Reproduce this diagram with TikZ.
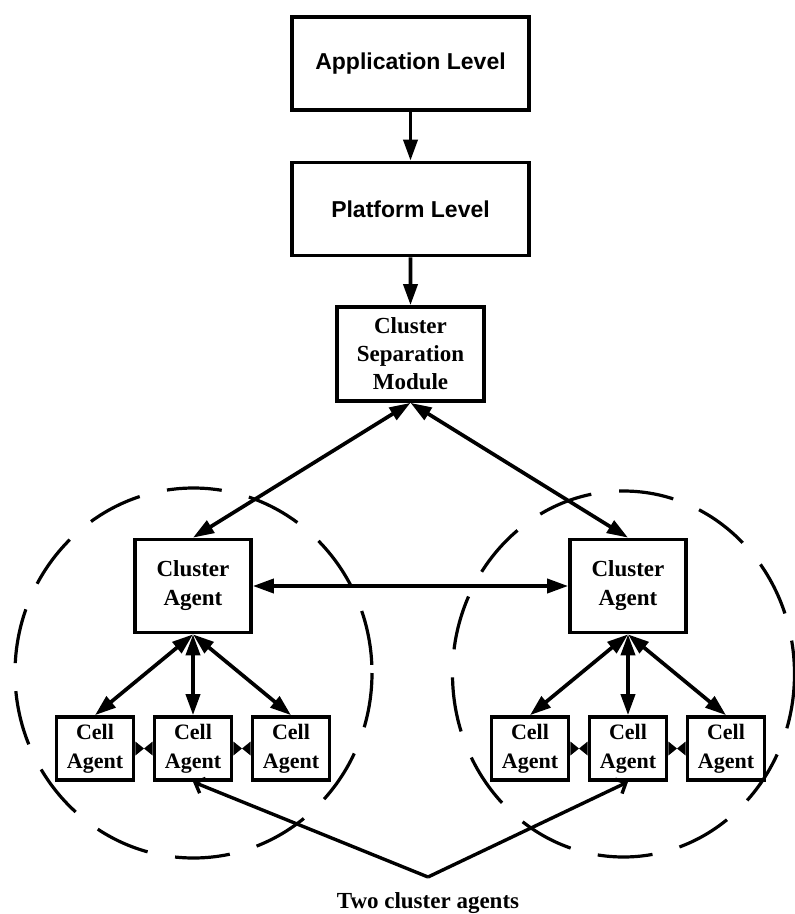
\documentclass[tikz,border=0pt]{standalone}
\usepackage{fontspec}
\setmainfont{Liberation Serif}
\setsansfont{Liberation Sans}
\usepackage{tikz}
\usetikzlibrary{arrows.meta,trees}
\usetikzlibrary{positioning}

\begin{document}
\begin{tikzpicture}[x=1pt,y=-1pt,line width=3.7pt,
  >={Triangle[length=21pt,width=14pt]},
  font=\fontsize{23}{29}\selectfont\bfseries,
  edge from parent path={(\tikzparentnode.south) -- (\tikzchildnode.north)},
  level 1/.style={level distance=145.5pt},
  level 2/.style={level distance=145pt},
  level 3/.style={level distance=232pt, sibling distance=435pt, <->},
  level 4/.style={level distance=162.5pt, sibling distance=98pt, <->},
  ->]
    \tikzstyle{tier}=[draw, minimum width=237pt, minimum height=93pt, font=\fontsize{23}{28}\selectfont\sffamily\bfseries]
    \tikzstyle{module}=[draw, align=center, minimum width=147pt, minimum height=94pt, font=\fontsize{23}{28}\selectfont\rmfamily\bfseries]
    \tikzstyle{agent}=[draw, align=center, minimum width=116pt, minimum height=93pt, font=\fontsize{23}{29}\selectfont\rmfamily\bfseries]
    \tikzstyle{cell}=[draw, align=center, minimum width=77pt, minimum height=63pt, inner sep=1pt, font=\fontsize{22}{29}\selectfont\rmfamily\bfseries]
    \tikzstyle{cluster}=[-, line width=3.2pt, dash pattern=on 55pt off 28pt]
    \tikzstyle{tie}=[-, fill=black, draw=none]
    \tikzstyle{pointer}=[-{Straight Barb[length=8pt,width=16pt]}, line width=3.4pt]

    \useasboundingbox (0,0) rectangle (795,914);

    \node[tier]     (app) at (410.5,63.5) {Application Level}
    child{node[tier]        (plat) {Platform Level}
      child{node[module]    (csm) {Cluster\\Separation\\Module}
        child{node[agent]   (ca1) {Cluster\\Agent}
          child{node[cell]  (c11) {Cell\\Agent}}
          child{node[cell]  (c12) {Cell\\Agent}}
          child{node[cell]  (c13) {Cell\\Agent}}}
        child{node[agent]   (ca2) {Cluster\\Agent}
          child{node[cell]  (c21) {Cell\\Agent}}
          child{node[cell]  (c22) {Cell\\Agent}}
          child{node[cell]  (c23) {Cell\\Agent}}}}};

    \draw[<->] (ca1) -- (ca2);

    \foreach \l/\r/\m in {c11/c12/m1, c12/c13/m2, c21/c22/m3, c22/c23/m4}{
      \path (\l) -- coordinate[midway] (\m) (\r);
      \path[tie] ([yshift=7pt]\l.east) -- (\m) -- ([yshift=-7pt]\l.east) -- cycle;
      \path[tie] ([yshift=7pt]\r.west) -- (\m) -- ([yshift=-7pt]\r.west) -- cycle;
    }

    \draw[cluster] (193.5,673) ellipse [x radius=178.5, y radius=185];
    \draw[cluster] (623.5,674) ellipse [x radius=171, y radius=183];

    \coordinate (apex) at (428,877);
    \node[inner sep=0pt, below=14pt of apex, font=\fontsize{23}{29}\selectfont\rmfamily\bfseries] (note) {Two cluster agents};
    \draw[pointer] (apex) -- (c12.south);
    \draw[pointer] (apex) -- (c22.south);

\end{tikzpicture}
\end{document}
